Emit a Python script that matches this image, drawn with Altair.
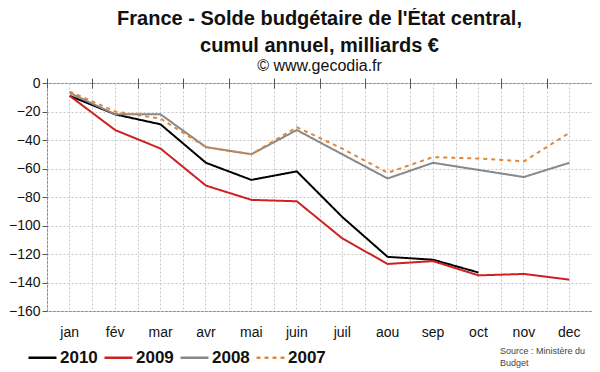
import altair as alt
import pandas as pd

months = ["jan", "fév", "mar", "avr", "mai", "juin", "juil", "aou", "sep", "oct", "nov", "dec"]
series_names = ["2010", "2009", "2008", "2007"]
s2010 = [-9, -22, -29, -56, -68, -62, -94, -122, -124, -133, None, None]
s2009 = [-9, -33, -46, -72, -82, -83, -109, -127, -125, -135, -134, -138]
s2008 = [-7, -22, -22, -45, -50, -33, -50, -67, -56, -61, -66, -56]
s2007 = [-6, -20, -25, -45, -50, -31, -46, -63, -52, -53, -55, -35]
colors = ["#000000", "#cc2222", "#888888", "#e0883a"]
dashes = [[1, 0], [1, 0], [1, 0], [4, 4]]
y_ticks = list(range(-160, 1, 20))

rows = []
for name, vals in zip(series_names, [s2010, s2009, s2008, s2007]):
    for m, v in zip(months, vals):
        if v is not None:
            rows.append({"mois": m, "serie": name, "valeur": v, "ordre": series_names.index(name)})
df = pd.DataFrame(rows)

FONT = "Liberation Sans"
GRID = "#c8c8c8"

xscale = alt.Scale(type="band", domain=months, paddingInner=0, paddingOuter=0)

legend_opts = dict(orient="none", legendX=-20, legendY=259,
                   direction="horizontal", title=None,
                   symbolType="stroke", symbolSize=784,
                   symbolStrokeWidth=2.5, labelFontSize=17,
                   labelFontWeight="bold", labelFont=FONT,
                   labelColor="#111", columnPadding=1,
                   labelOffset=2)

# top axis layer: ticks at band boundaries + boundary grid lines
top = alt.Chart(pd.DataFrame({"mois": months})).mark_rule(opacity=0).encode(
    x=alt.X("mois:N", sort=months, scale=xscale,
            axis=alt.Axis(orient="top", labels=False, ticks=True, tickBand="extent",
                          tickSize=10, offset=-5, domain=False, grid=True,
                          gridDash=[2, 2], gridColor=GRID, tickColor="#555",
                          title=None)),
)

lines = alt.Chart(df).mark_line(strokeWidth=2).encode(
    x=alt.X("mois:N", sort=months, scale=xscale,
            axis=alt.Axis(orient="bottom", title=None, labelAngle=0, ticks=False,
                          domain=False, grid=True, gridDash=[2, 2], gridColor=GRID,
                          labelFontSize=14, labelPadding=14, labelColor="#111",
                          labelFont=FONT)),
    y=alt.Y("valeur:Q", scale=alt.Scale(domain=[-160, 0], nice=False),
            axis=alt.Axis(values=y_ticks, title=None, tickSize=5, tickColor="#555",
                          labelPadding=2, labelFontSize=14, labelColor="#111",
                          labelFont=FONT, grid=True, gridDash=[2, 2],
                          gridColor=GRID, domain=False)),
    color=alt.Color("serie:N", scale=alt.Scale(domain=series_names, range=colors),
                    legend=alt.Legend(**legend_opts)),
    strokeDash=alt.StrokeDash("serie:N", scale=alt.Scale(domain=series_names, range=dashes),
                              legend=alt.Legend(**legend_opts)),
    detail="serie:N",
    order=alt.Order("ordre:Q", sort="descending"),
)

source = alt.Chart(pd.DataFrame({"a": [0]})).mark_text(
    text=["Source : Ministère du", "Budget"], align="left", baseline="top",
    fontSize=9, font=FONT, color="#444", lineHeight=12,
).encode(x=alt.value(453), y=alt.value(264))

chart = alt.layer(top, lines, source).resolve_axis(x="independent").properties(
    width=545, height=228,
    padding={"left": 39, "top": 75, "right": 0, "bottom": 60},
    autosize="none",
    background="white",
    title=alt.Title(
        text=["France - Solde budgétaire de l'État central,", "cumul annuel, milliards €"],
        subtitle="© www.gecodia.fr",
        fontSize=20, lineHeight=27, font=FONT, fontWeight="bold", color="#111",
        subtitleFont=FONT, subtitleFontSize=16, subtitleColor="#111",
        subtitleFontWeight="normal", subtitlePadding=2,
        anchor="middle", offset=2,
    ),
).configure_view(stroke="#808080", strokeWidth=1)

chart.save("out.html", embed_options={"renderer": "svg", "actions": False})
